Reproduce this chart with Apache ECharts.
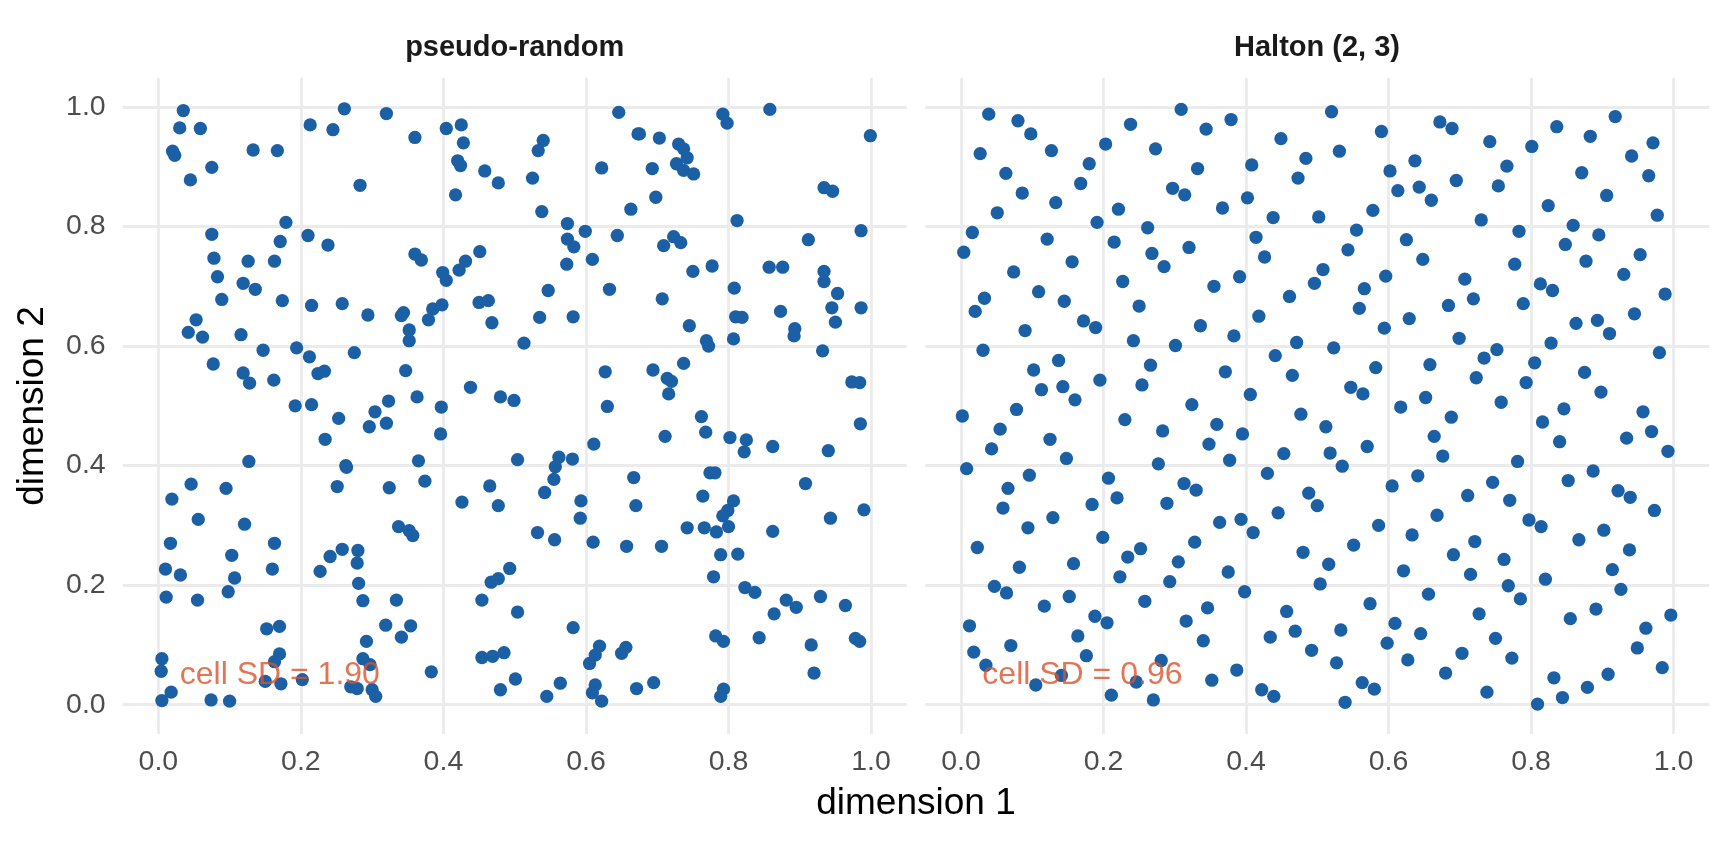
<!DOCTYPE html>
<html>
<head>
<meta charset="utf-8">
<title>pseudo-random vs Halton</title>
<script src="https://cdn.jsdelivr.net/npm/echarts@6/dist/echarts.min.js"></script>
<style>
  html, body { margin: 0; padding: 0; background: #fff; }
  #main { width: 1728px; height: 844px; }
</style>
</head>
<body>
<div id="main"></div>
<script type="text/javascript">
// facet titles and annotation text
var panelTitles = ['pseudo-random', 'Halton (2, 3)'];
var cellSD = ['cell SD = 1.90', 'cell SD = 0.96'];
var cellSDPos = [0.03, 0.05];
var tickValues = [0, 0.2, 0.4, 0.6, 0.8, 1.0];

// points
var pseudoRandom = [
  [0.035,0.994],[0.030,0.965],[0.059,0.964],[0.020,0.926],[0.023,0.919],[0.133,0.928],[0.167,0.927],[0.075,0.899],
  [0.045,0.878],[0.179,0.807],[0.075,0.787],[0.171,0.775],[0.078,0.747],[0.126,0.742],[0.163,0.742],[0.083,0.716],
  [0.119,0.705],[0.136,0.695],[0.089,0.678],[0.174,0.676],[0.053,0.644],[0.042,0.623],[0.062,0.615],[0.116,0.619],
  [0.147,0.593],[0.194,0.597],[0.077,0.570],[0.119,0.555],
  [0.261,0.997],[0.320,0.989],[0.213,0.970],[0.245,0.962],[0.404,0.964],[0.425,0.970],[0.360,0.949],[0.428,0.940],
  [0.420,0.910],[0.424,0.902],[0.283,0.869],[0.417,0.853],[0.210,0.785],[0.238,0.769],[0.360,0.754],[0.369,0.744],
  [0.431,0.742],[0.399,0.723],[0.404,0.710],[0.422,0.727],[0.215,0.668],[0.258,0.671],[0.294,0.652],[0.344,0.656],
  [0.341,0.651],[0.385,0.662],[0.398,0.669],[0.379,0.644],[0.352,0.627],[0.352,0.609],[0.212,0.582],[0.275,0.589],
  [0.646,0.991],[0.673,0.955],[0.540,0.944],[0.533,0.927],[0.622,0.898],[0.458,0.893],[0.477,0.873],[0.525,0.881],
  [0.538,0.825],[0.663,0.829],[0.574,0.805],[0.599,0.792],[0.644,0.785],[0.574,0.779],[0.583,0.766],[0.609,0.745],
  [0.573,0.737],[0.451,0.758],[0.547,0.693],[0.633,0.695],[0.450,0.673],[0.463,0.676],[0.468,0.639],[0.535,0.648],
  [0.582,0.649],[0.513,0.605],
  [0.792,0.988],[0.798,0.973],[0.858,0.996],[0.675,0.955],[0.703,0.948],[0.730,0.938],[0.737,0.930],[0.742,0.915],
  [0.727,0.905],[0.737,0.894],[0.751,0.888],[0.693,0.897],[0.698,0.849],[0.812,0.810],[0.912,0.778],[0.723,0.783],
  [0.733,0.773],[0.709,0.768],[0.777,0.734],[0.750,0.725],[0.857,0.732],[0.876,0.732],[0.808,0.697],[0.707,0.679],
  [0.873,0.658],[0.810,0.649],[0.819,0.648],[0.745,0.634],[0.893,0.629],[0.892,0.617],[0.769,0.609],[0.772,0.600],
  [0.807,0.612],
  [0.999,0.952],[0.934,0.865],[0.946,0.859],[0.986,0.793],[0.934,0.725],[0.934,0.708],[0.953,0.688],[0.945,0.664],
  [0.986,0.664],[0.950,0.640],[0.932,0.592],[0.973,0.540],[0.984,0.539],[0.985,0.470],[0.940,0.425],[0.908,0.370],
  [0.943,0.312],[0.990,0.326],[0.929,0.181],[0.964,0.166],[0.916,0.100],[0.978,0.111],[0.984,0.106],[0.920,0.053],
  [0.128,0.538],[0.162,0.543],[0.192,0.500],[0.127,0.407],[0.046,0.369],[0.095,0.362],[0.019,0.344],[0.056,0.310],
  [0.121,0.302],[0.017,0.270],[0.163,0.270],[0.103,0.250],[0.010,0.227],[0.031,0.217],[0.160,0.227],[0.107,0.212],
  [0.011,0.180],[0.055,0.175],[0.098,0.189],[0.152,0.127],[0.170,0.131],[0.005,0.077],[0.004,0.056],[0.170,0.085],
  [0.163,0.072],[0.150,0.039],[0.172,0.035],[0.018,0.021],[0.005,0.007],[0.074,0.008],[0.100,0.006],
  [0.224,0.554],[0.233,0.558],[0.347,0.559],[0.215,0.502],[0.438,0.531],[0.363,0.515],[0.323,0.508],[0.397,0.498],
  [0.253,0.479],[0.304,0.490],[0.296,0.465],[0.320,0.471],[0.234,0.444],[0.396,0.453],[0.263,0.400],[0.264,0.397],
  [0.365,0.408],[0.251,0.365],[0.324,0.363],[0.374,0.374],[0.426,0.339],[0.337,0.298],[0.352,0.291],[0.357,0.283],
  [0.258,0.260],[0.241,0.248],[0.280,0.258],[0.279,0.237],[0.227,0.223],[0.281,0.203],[0.287,0.174],[0.334,0.175],
  [0.319,0.133],[0.354,0.132],[0.341,0.113],[0.292,0.106],[0.287,0.077],[0.297,0.067],[0.383,0.055],[0.202,0.042],
  [0.270,0.030],[0.279,0.027],[0.300,0.025],[0.305,0.014],
  [0.627,0.557],[0.480,0.515],[0.499,0.509],[0.630,0.499],[0.611,0.436],[0.504,0.410],[0.562,0.414],[0.557,0.398],
  [0.581,0.411],[0.555,0.377],[0.542,0.355],[0.465,0.366],[0.667,0.380],[0.477,0.333],[0.593,0.341],[0.592,0.312],
  [0.670,0.333],[0.532,0.288],[0.556,0.276],[0.610,0.272],[0.657,0.265],[0.493,0.228],[0.467,0.205],[0.477,0.211],
  [0.454,0.175],[0.504,0.155],[0.582,0.129],[0.454,0.079],[0.469,0.081],[0.485,0.087],[0.619,0.098],[0.613,0.083],
  [0.605,0.069],[0.650,0.086],[0.656,0.096],[0.501,0.043],[0.480,0.025],[0.564,0.036],[0.545,0.014],[0.613,0.033],
  [0.609,0.020],[0.622,0.006],[0.671,0.027],
  [0.694,0.560],[0.737,0.571],[0.714,0.546],[0.720,0.541],[0.716,0.520],[0.762,0.482],[0.768,0.456],[0.711,0.449],
  [0.802,0.447],[0.825,0.443],[0.822,0.423],[0.862,0.432],[0.774,0.388],[0.781,0.388],[0.764,0.349],[0.807,0.341],
  [0.799,0.325],[0.792,0.316],[0.742,0.296],[0.766,0.296],[0.783,0.289],[0.800,0.298],[0.862,0.290],[0.706,0.265],
  [0.789,0.251],[0.813,0.252],[0.779,0.214],[0.823,0.196],[0.837,0.188],[0.881,0.175],[0.895,0.163],[0.864,0.152],
  [0.782,0.115],[0.793,0.106],[0.843,0.112],[0.695,0.037],[0.793,0.026],[0.789,0.014]
];

// points of the right panel (Halton bases 2 and 3, points 1..300)
var halton = [
  [0.500,0.333],[0.250,0.667],[0.750,0.111],[0.125,0.444],[0.625,0.778],[0.375,0.222],[0.875,0.556],[0.063,0.889],
  [0.563,0.037],[0.313,0.370],[0.813,0.704],[0.188,0.148],[0.688,0.481],[0.438,0.815],[0.938,0.259],[0.031,0.593],
  [0.531,0.926],[0.281,0.074],[0.781,0.407],[0.156,0.741],[0.656,0.185],[0.406,0.519],[0.906,0.852],[0.094,0.296],
  [0.594,0.630],[0.344,0.963],[0.844,0.012],[0.219,0.346],[0.719,0.679],[0.469,0.123],[0.969,0.457],[0.016,0.790],
  [0.516,0.235],[0.266,0.568],[0.766,0.901],[0.141,0.049],[0.641,0.383],[0.391,0.716],[0.891,0.160],[0.078,0.494],
  [0.578,0.827],[0.328,0.272],[0.828,0.605],[0.203,0.938],[0.703,0.086],[0.453,0.420],[0.953,0.753],[0.047,0.198],
  [0.547,0.531],[0.297,0.864],[0.797,0.309],[0.172,0.642],[0.672,0.975],[0.422,0.025],[0.922,0.358],[0.109,0.691],
  [0.609,0.136],[0.359,0.469],[0.859,0.802],[0.234,0.247],[0.734,0.580],[0.484,0.914],[0.984,0.062],[0.008,0.395],
  [0.508,0.728],[0.258,0.173],[0.758,0.506],[0.133,0.840],[0.633,0.284],[0.383,0.617],[0.883,0.951],[0.070,0.099],
  [0.570,0.432],[0.320,0.765],[0.820,0.210],[0.195,0.543],[0.695,0.877],[0.445,0.321],[0.945,0.654],[0.039,0.988],
  [0.539,0.004],[0.289,0.337],[0.789,0.671],[0.164,0.115],[0.664,0.449],[0.414,0.782],[0.914,0.226],[0.102,0.560],
  [0.602,0.893],[0.352,0.041],[0.852,0.375],[0.227,0.708],[0.727,0.152],[0.477,0.486],[0.977,0.819],[0.023,0.263],
  [0.523,0.597],[0.273,0.930],[0.773,0.078],[0.148,0.412],[0.648,0.745],[0.398,0.189],[0.898,0.523],[0.086,0.856],
  [0.586,0.300],[0.336,0.634],[0.836,0.967],[0.211,0.016],[0.711,0.350],[0.461,0.683],[0.961,0.128],[0.055,0.461],
  [0.555,0.794],[0.305,0.239],[0.805,0.572],[0.180,0.905],[0.680,0.053],[0.430,0.387],[0.930,0.720],[0.117,0.165],
  [0.617,0.498],[0.367,0.831],[0.867,0.276],[0.242,0.609],[0.742,0.942],[0.492,0.091],[0.992,0.424],[0.004,0.757],
  [0.504,0.202],[0.254,0.535],[0.754,0.868],[0.129,0.313],[0.629,0.646],[0.379,0.979],[0.879,0.029],[0.066,0.362],
  [0.566,0.696],[0.316,0.140],[0.816,0.473],[0.191,0.807],[0.691,0.251],[0.441,0.584],[0.941,0.918],[0.035,0.066],
  [0.535,0.399],[0.285,0.733],[0.785,0.177],[0.160,0.510],[0.660,0.844],[0.410,0.288],[0.910,0.621],[0.098,0.955],
  [0.598,0.103],[0.348,0.436],[0.848,0.770],[0.223,0.214],[0.723,0.547],[0.473,0.881],[0.973,0.325],[0.020,0.658],
  [0.520,0.992],[0.270,0.008],[0.770,0.342],[0.145,0.675],[0.645,0.119],[0.395,0.453],[0.895,0.786],[0.082,0.230],
  [0.582,0.564],[0.332,0.897],[0.832,0.045],[0.207,0.379],[0.707,0.712],[0.457,0.156],[0.957,0.490],[0.051,0.823],
  [0.551,0.267],[0.301,0.601],[0.801,0.934],[0.176,0.082],[0.676,0.416],[0.426,0.749],[0.926,0.193],[0.113,0.527],
  [0.613,0.860],[0.363,0.305],[0.863,0.638],[0.238,0.971],[0.738,0.021],[0.488,0.354],[0.988,0.687],[0.012,0.132],
  [0.512,0.465],[0.262,0.798],[0.762,0.243],[0.137,0.576],[0.637,0.910],[0.387,0.058],[0.887,0.391],[0.074,0.724],
  [0.574,0.169],[0.324,0.502],[0.824,0.835],[0.199,0.280],[0.699,0.613],[0.449,0.947],[0.949,0.095],[0.043,0.428],
  [0.543,0.761],[0.293,0.206],[0.793,0.539],[0.168,0.872],[0.668,0.317],[0.418,0.650],[0.918,0.984],[0.105,0.033],
  [0.605,0.366],[0.355,0.700],[0.855,0.144],[0.230,0.477],[0.730,0.811],[0.480,0.255],[0.980,0.589],[0.027,0.922],
  [0.527,0.070],[0.277,0.403],[0.777,0.737],[0.152,0.181],[0.652,0.514],[0.402,0.848],[0.902,0.292],[0.090,0.626],
  [0.590,0.959],[0.340,0.107],[0.840,0.440],[0.215,0.774],[0.715,0.218],[0.465,0.551],[0.965,0.885],[0.059,0.329],
  [0.559,0.663],[0.309,0.996],[0.809,0.001],[0.184,0.335],[0.684,0.668],[0.434,0.113],[0.934,0.446],[0.121,0.779],
  [0.621,0.224],[0.371,0.557],[0.871,0.890],[0.246,0.038],[0.746,0.372],[0.496,0.705],[0.996,0.150],[0.002,0.483],
  [0.502,0.816],[0.252,0.261],[0.752,0.594],[0.127,0.927],[0.627,0.075],[0.377,0.409],[0.877,0.742],[0.064,0.187],
  [0.564,0.520],[0.314,0.853],[0.814,0.298],[0.189,0.631],[0.689,0.964],[0.439,0.014],[0.939,0.347],[0.033,0.680],
  [0.533,0.125],[0.283,0.458],[0.783,0.792],[0.158,0.236],[0.658,0.569],[0.408,0.903],[0.908,0.051],[0.096,0.384],
  [0.596,0.717],[0.346,0.162],[0.846,0.495],[0.221,0.829],[0.721,0.273],[0.471,0.606],[0.971,0.940],[0.018,0.088],
  [0.518,0.421],[0.268,0.755],[0.768,0.199],[0.143,0.532],[0.643,0.866],[0.393,0.310],[0.893,0.643],[0.080,0.977],
  [0.580,0.026],[0.330,0.359],[0.830,0.693],[0.205,0.137]
];

var dotColor = '#1b5fa5';
var textColor = '#d9532a';
var fontFamily = '"Liberation Sans", Arial, Helvetica, sans-serif';

var myChart = echarts.init(document.getElementById('main'), null, { renderer: 'canvas' });

var grids = [
  { left: 122.7, top: 77.7, width: 784, height: 656.3 },
  { left: 925.3, top: 77.7, width: 784, height: 656.3 }
];

function fmt(v) { return v.toFixed(1); }

var xAxes = [], yAxes = [];
for (var g = 0; g < 2; g++) {
  xAxes.push({
    type: 'value', gridIndex: g, min: -0.05, max: 1.05,
    axisLine: { show: false },
    axisTick: { show: false, customValues: tickValues },
    axisLabel: { customValues: tickValues, formatter: fmt, color: '#4d4d4d', fontSize: 28.5, margin: 14, fontFamily: fontFamily },
    splitLine: { show: true, lineStyle: { color: '#ebebeb', width: 2.8 } }
  });
  yAxes.push({
    type: 'value', gridIndex: g, min: -0.049, max: 1.049,
    axisLine: { show: false },
    axisTick: { show: false, customValues: tickValues },
    axisLabel: { show: g === 0, customValues: tickValues, formatter: fmt, color: '#4d4d4d', fontSize: 28.5, margin: 17, fontFamily: fontFamily },
    splitLine: { show: true, lineStyle: { color: '#ebebeb', width: 2.8 } }
  });
}

var series = [];
[pseudoRandom, halton].forEach(function (pts, g) {
  series.push({
    type: 'scatter', xAxisIndex: g, yAxisIndex: g, data: pts,
    symbolSize: 13.3, itemStyle: { color: dotColor, opacity: 1 },
    silent: true, z: 2
  });
  // the "cell SD" annotation sits on top of the points
  series.push({
    type: 'scatter', xAxisIndex: g, yAxisIndex: g, data: [cellSDPos],
    symbolSize: 0.1, itemStyle: { color: 'rgba(0,0,0,0)' },
    label: { show: true, position: 'right', distance: 0, formatter: cellSD[g],
             color: textColor, fontSize: 32, fontFamily: fontFamily },
    silent: true, z: 5
  });
});

var option = {
  animation: false,
  backgroundColor: '#ffffff',
  grid: grids,
  xAxis: xAxes,
  yAxis: yAxes,
  series: series,
  graphic: [
    { type: 'text', x: 514.7, y: 48, style: { text: panelTitles[0], textAlign: 'center', textVerticalAlign: 'middle',
      font: 'bold 29px ' + fontFamily, fill: '#1a1a1a' } },
    { type: 'text', x: 1317, y: 48, style: { text: panelTitles[1], textAlign: 'center', textVerticalAlign: 'middle',
      font: 'bold 29px ' + fontFamily, fill: '#1a1a1a' } },
    { type: 'text', x: 916, y: 804, style: { text: 'dimension 1', textAlign: 'center', textVerticalAlign: 'middle',
      font: '37px ' + fontFamily, fill: '#000000' } },
    { type: 'text', x: 33, y: 406, rotation: Math.PI / 2, style: { text: 'dimension 2', textAlign: 'center', textVerticalAlign: 'middle',
      font: '37px ' + fontFamily, fill: '#000000' } }
  ]
};

myChart.setOption(option);
</script>
</body>
</html>
